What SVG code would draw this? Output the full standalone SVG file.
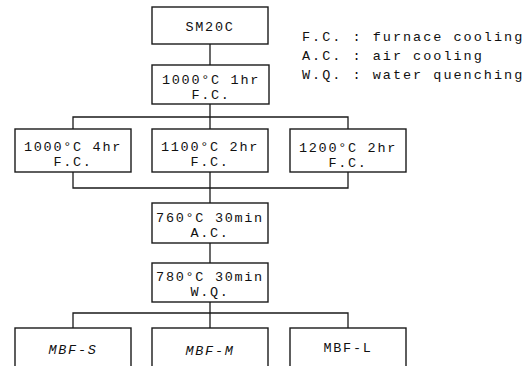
<svg xmlns="http://www.w3.org/2000/svg" width="532" height="366" viewBox="0 0 532 366">
<style>
.box{fill:#fff;stroke:#1a1a1a;stroke-width:1.4}
.t{font-family:"Liberation Mono","Courier New",monospace;font-size:13.5px;letter-spacing:1.7px;fill:#111;text-anchor:middle}
.it{font-style:italic}
.leg{font-family:"Liberation Mono","Courier New",monospace;font-size:13.5px;letter-spacing:2px;fill:#111}
.c{fill:none;stroke:#1a1a1a;stroke-width:1.3}
</style>
<rect width="532" height="366" fill="#fff"/>
<g id="connectors">
<line class="c" x1="210" y1="44" x2="210" y2="65"/>
<line class="c" x1="210" y1="104" x2="210" y2="117"/>
<polyline class="c" points="73,129 73,117 348,117 348,129"/>
<line class="c" x1="210" y1="117" x2="210" y2="129"/>
<polyline class="c" points="73,172 73,188 348,188 348,172"/>
<line class="c" x1="210" y1="172" x2="210" y2="203"/>
<line class="c" x1="210" y1="243" x2="210" y2="263"/>
<line class="c" x1="210" y1="302" x2="210" y2="328"/>
<polyline class="c" points="73,328 73,313 348,313 348,328"/>
</g>
<g id="n-sm20c"><rect class="box" x="152" y="7" width="116" height="37"/><text class="t" x="210" y="31">SM20C</text></g>
<g id="n-1000-1hr"><rect class="box" x="152" y="65" width="117" height="39"/><text class="t" x="211" y="84">1000°C 1hr</text><text class="t" x="211" y="99">F.C.</text></g>
<g id="n-1000-4hr"><rect class="box" x="15" y="129" width="116" height="43"/><text class="t" x="73" y="151">1000°C 4hr</text><text class="t" x="73" y="166">F.C.</text></g>
<g id="n-1100-2hr"><rect class="box" x="152" y="129" width="116" height="43"/><text class="t" x="210" y="151">1100°C 2hr</text><text class="t" x="210" y="166">F.C.</text></g>
<g id="n-1200-2hr"><rect class="box" x="290" y="129" width="116" height="43"/><text class="t" x="348" y="152">1200°C 2hr</text><text class="t" x="348" y="167">F.C.</text></g>
<g id="n-760"><rect class="box" x="152" y="203" width="116" height="40"/><text class="t" x="210" y="222">760°C 30min</text><text class="t" x="210" y="237">A.C.</text></g>
<g id="n-780"><rect class="box" x="152" y="263" width="116" height="39"/><text class="t" x="210" y="281">780°C 30min</text><text class="t" x="210" y="296">W.Q.</text></g>
<g id="n-mbf-s"><rect class="box" x="15" y="328" width="116" height="42"/><text class="t it" x="73" y="354">MBF-S</text></g>
<g id="n-mbf-m"><rect class="box" x="152" y="328" width="116" height="42"/><text class="t it" x="210" y="355">MBF-M</text></g>
<g id="n-mbf-l"><rect class="box" x="290" y="328" width="116" height="42"/><text class="t" x="348" y="352">MBF-L</text></g>
<g id="legend">
<text class="leg" x="302" y="41">F.C. : furnace cooling</text>
<text class="leg" x="302" y="60">A.C. : air cooling</text>
<text class="leg" x="302" y="79">W.Q. : water quenching</text>
</g>
</svg>
